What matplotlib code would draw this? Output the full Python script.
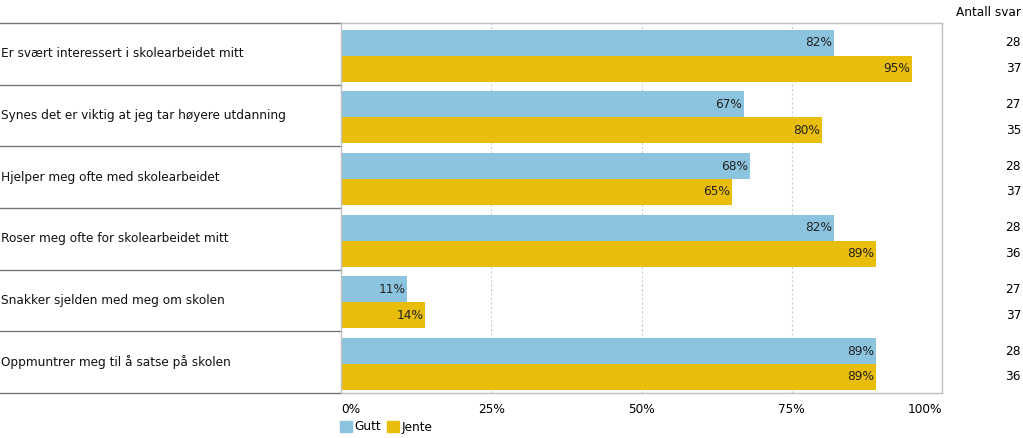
import numpy as np
import matplotlib.pyplot as plt
from matplotlib.patches import Patch
from matplotlib.lines import Line2D
import matplotlib.transforms as mtransforms

# Data
categories = ["Er svært interessert i skolearbeidet mitt",
              "Synes det er viktig at jeg tar høyere utdanning",
              "Hjelper meg ofte med skolearbeidet",
              "Roser meg ofte for skolearbeidet mitt",
              "Snakker sjelden med meg om skolen",
              "Oppmuntrer meg til å satse på skolen"]
gutt = [82, 67, 68, 82, 11, 89]
jente = [95, 80, 65, 89, 14, 89]
n_gutt = [28, 27, 28, 28, 27, 28]
n_jente = [37, 35, 37, 36, 37, 36]
series_names = ["Gutt", "Jente"]

blue = "#8cc3df"
yellow = "#e8bd0b"

plt.rcParams['font.family'] = ['DejaVu Sans']
plt.rcParams['font.size'] = 8.7

W, H = 1023, 438
fig = plt.figure(figsize=(W / 100, H / 100), dpi=100)

# plot area in pixels
x0, x1, y0, y1 = 341, 942, 23, 393
ax = fig.add_axes([x0 / W, 1 - y1 / H, (x1 - x0) / W, (y1 - y0) / H])

n = len(categories)
ypos = np.arange(n)
bh = 0.42
ax.barh(ypos - bh / 2 + 0.03, gutt, height=bh, color=blue, label=series_names[0])
ax.barh(ypos + bh / 2 + 0.03, jente, height=bh, color=yellow, label=series_names[1])

ax.set_xlim(0, 100)
ax.set_ylim(n - 0.5, -0.5)

for i in range(n):
    ax.text(gutt[i] - 0.3, i - bh / 2 + 0.03, f"{gutt[i]}%", ha="right", va="center", color="#222222")
    ax.text(jente[i] - 0.3, i + bh / 2 + 0.03, f"{jente[i]}%", ha="right", va="center", color="#222222")

# gridlines
for v in [25, 50, 75]:
    ax.axvline(v, color="#cccccc", lw=0.8, ls=(0, (2, 2)), zorder=0)

ax.set_xticks([0, 25, 50, 75, 100])
ax.set_xticklabels(["0%", "25%", "50%", "75%", "100%"])
ax.tick_params(axis="x", length=0, pad=7)
ax.set_yticks([])
ax.get_xticklabels()[0].set_horizontalalignment("left")
ax.get_xticklabels()[-1].set_horizontalalignment("right")

for s in ["top", "right", "left", "bottom"]:
    ax.spines[s].set_color("#c0c0c0")
    ax.spines[s].set_linewidth(1)

# category labels and separator lines in the left area
trans = mtransforms.blended_transform_factory(fig.transFigure, ax.transData)
for i, cat in enumerate(categories):
    ax.text(1 / W, i, cat, transform=trans, ha="left", va="center", color="#111111")
for b in np.arange(n + 1) - 0.5:
    ax.add_line(Line2D([0, x0 / W], [b, b], transform=trans, color="#777777", lw=1, clip_on=False))

# Antall svar column
ax.text(1021 / W, 1 - 12 / H, "Antall svar", transform=fig.transFigure, ha="right", va="center")
for i in range(n):
    ax.text(1021 / W, i - bh / 2 + 0.03, str(n_gutt[i]), transform=trans, ha="right", va="center")
    ax.text(1021 / W, i + bh / 2 + 0.03, str(n_jente[i]), transform=trans, ha="right", va="center")

handles = [Patch(color=blue, label=series_names[0]), Patch(color=yellow, label=series_names[1])]
fig.legend(handles=handles, loc="center left", bbox_to_anchor=(340 / W, 1 - 427 / H), ncol=2,
           frameon=False, handlelength=1.0, handleheight=1.0, handletextpad=0.2, columnspacing=0.5,
           borderaxespad=0, borderpad=0)

fig.savefig("out.png", dpi=100)
